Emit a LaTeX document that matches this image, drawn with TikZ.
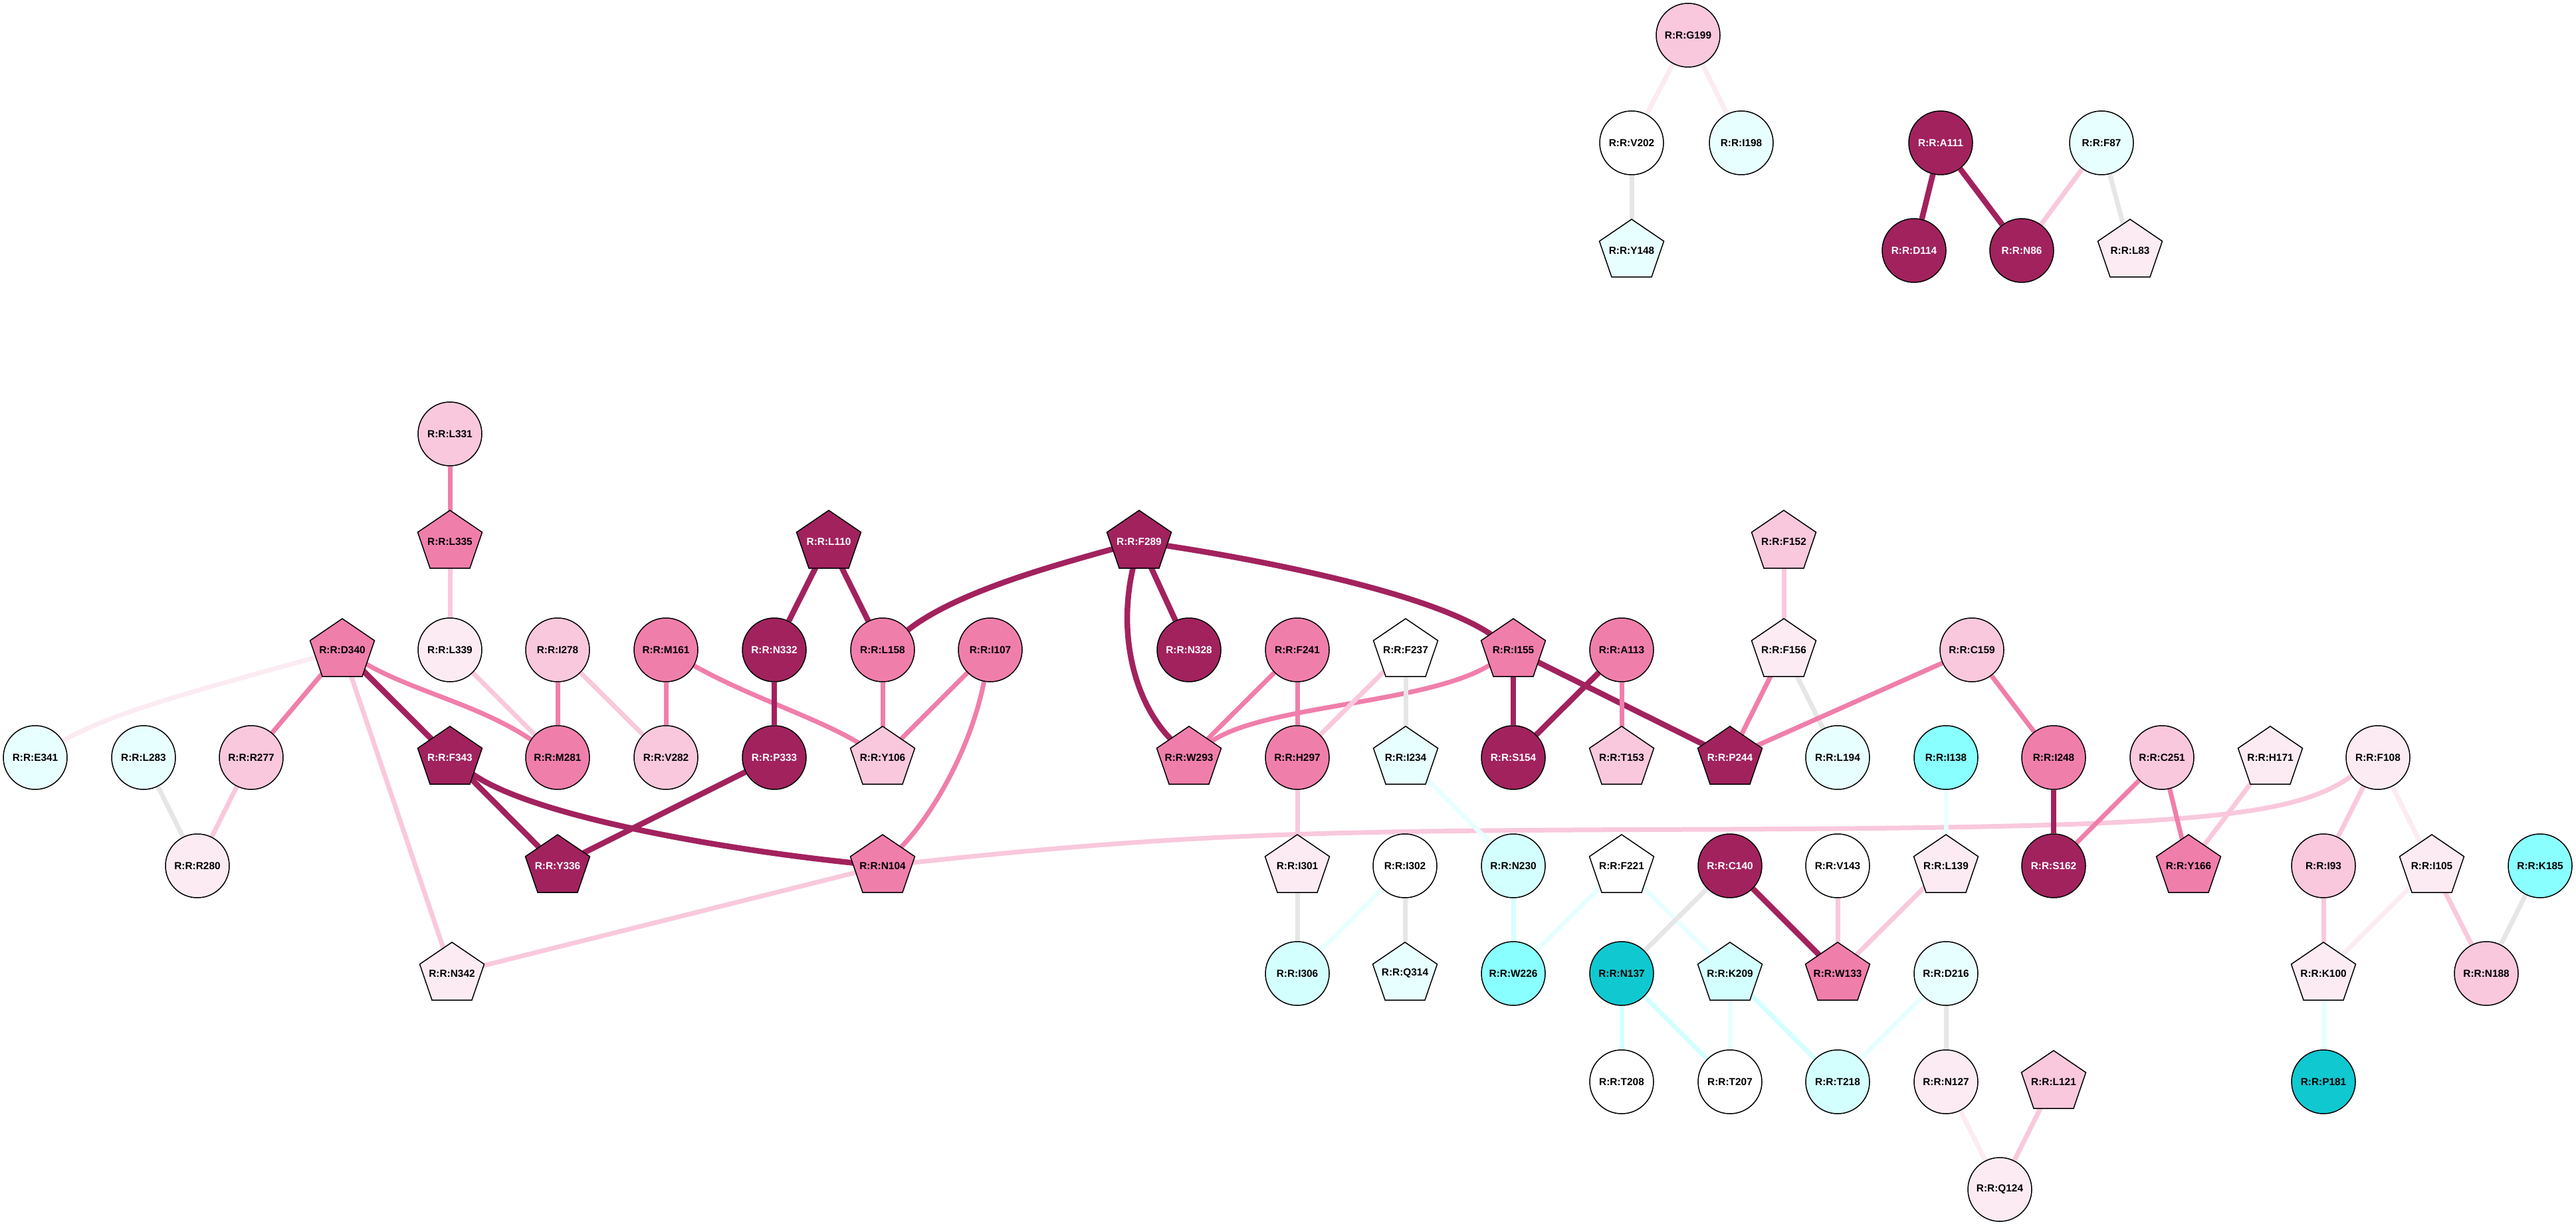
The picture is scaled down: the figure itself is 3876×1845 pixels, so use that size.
\documentclass[tikz,border=0pt]{standalone}
\usepackage{fontspec}
\setmainfont{Liberation Sans}
\usetikzlibrary{shapes.geometric}
\pgfdeclarelayer{edgelayer}
\pgfdeclarelayer{shapelayer}
\pgfsetlayers{edgelayer,shapelayer,main}
\definecolor{cdark}{RGB}{162,34,94}
\definecolor{cmed}{RGB}{240,126,171}
\definecolor{clp}{RGB}{249,200,220}
\definecolor{cvlp}{RGB}{252,235,243}
\definecolor{cvlc}{RGB}{232,255,255}
\definecolor{clc}{RGB}{212,255,255}
\definecolor{ccy}{RGB}{138,255,255}
\definecolor{cteal}{RGB}{16,200,208}
\definecolor{cgrey}{RGB}{230,230,230}
\tikzset{
  nd/.style={draw=black, line width=0.75pt, inner sep=0pt, font=\bfseries\fontsize{7.7}{8}\selectfont},
  cir/.style={nd, circle, minimum size=48pt},
  pent/.style={nd, circle, draw=none, minimum size=38pt},
  tw/.style={text=white},
  fdark/.style={fill=cdark, text=white},
  fmed/.style={fill=cmed},
  flp/.style={fill=clp},
  fvlp/.style={fill=cvlp},
  fw/.style={fill=white},
  fvlc/.style={fill=cvlc},
  flc/.style={fill=clc},
  fcy/.style={fill=ccy},
  fteal/.style={fill=cteal},
  pentshape/.style={draw=black, line width=0.75pt},
  edk/.style={line width=4.25pt, draw=cdark},
  emd/.style={line width=3.5pt, draw=cmed},
  elp/.style={line width=3.5pt, draw=clp},
  evl/.style={line width=3.5pt, draw=cvlp},
  egr/.style={line width=3.5pt, draw=cgrey},
  evc/.style={line width=3.5pt, draw=cvlc},
  elc/.style={line width=3.5pt, draw=clc},
}
\begin{document}
\begin{tikzpicture}[x=0.5pt, y=-0.5pt]
\useasboundingbox (0,0) rectangle (3876,1845);
% top group
\node[cir,flp]   (G199) at (2540,53)  {R:R:G199};
\node[cir,fw]    (V202) at (2455,215) {R:R:V202};
\node[cir,fvlc]  (I198) at (2620,215) {R:R:I198};
\node[pent]      (Y148) at (2455,377) {R:R:Y148};
\node[cir,fdark] (A111) at (2920,215) {R:R:A111};
\node[cir,fvlc]  (F87)  at (3162,215) {R:R:F87};
\node[cir,fdark] (D114) at (2880,377) {R:R:D114};
\node[cir,fdark] (N86)  at (3042,377) {R:R:N86};
\node[pent]      (L83)  at (3205,377) {R:R:L83};
% row 653
\node[cir,flp]   (L331) at (677,653) {R:R:L331};
% row 815
\node[pent]      (L335) at (677,815)  {R:R:L335};
\node[pent,tw]   (L110) at (1247,815) {R:R:L110};
\node[pent,tw]   (F289) at (1714,815) {R:R:F289};
\node[pent]      (F152) at (2684,815) {R:R:F152};
% row 978
\node[pent]      (D340) at (515,978)  {R:R:D340};
\node[cir,fvlp]  (L339) at (677,978)  {R:R:L339};
\node[cir,flp]   (I278) at (839,978)  {R:R:I278};
\node[cir,fmed]  (M161) at (1002,978) {R:R:M161};
\node[cir,fdark] (N332) at (1165,978) {R:R:N332};
\node[cir,fmed]  (L158) at (1328,978) {R:R:L158};
\node[cir,fmed]  (I107) at (1490,978) {R:R:I107};
\node[cir,fdark] (N328) at (1789,978) {R:R:N328};
\node[cir,fmed]  (F241) at (1952,978) {R:R:F241};
\node[pent]      (F237) at (2115,978) {R:R:F237};
\node[pent]      (I155) at (2277,978) {R:R:I155};
\node[cir,fmed]  (A113) at (2440,978) {R:R:A113};
\node[pent]      (F156) at (2684,978) {R:R:F156};
\node[cir,flp]   (C159) at (2967,978) {R:R:C159};
% row 1140
\node[cir,fvlc]   (E341) at (53,1140)   {R:R:E341};
\node[cir,fvlc]   (L283) at (216,1140)  {R:R:L283};
\node[cir,flp]    (R277) at (378,1140)  {R:R:R277};
\node[pent,tw]    (F343) at (677,1140)  {R:R:F343};
\node[cir,fmed]   (M281) at (839,1140)  {R:R:M281};
\node[cir,flp]    (V282) at (1002,1140) {R:R:V282};
\node[cir,fdark]  (P333) at (1165,1140) {R:R:P333};
\node[pent]       (Y106) at (1328,1140) {R:R:Y106};
\node[pent]       (W293) at (1789,1140) {R:R:W293};
\node[cir,fmed]   (H297) at (1952,1140) {R:R:H297};
\node[pent]       (I234) at (2115,1140) {R:R:I234};
\node[cir,fdark]  (S154) at (2277,1140) {R:R:S154};
\node[pent]       (T153) at (2440,1140) {R:R:T153};
\node[pent,tw]    (P244) at (2603,1140) {R:R:P244};
\node[cir,fvlc]   (L194) at (2765,1140) {R:R:L194};
\node[cir,fcy]    (I138) at (2928,1140) {R:R:I138};
\node[cir,fmed]   (I248) at (3090,1140) {R:R:I248};
\node[cir,flp]    (C251) at (3253,1140) {R:R:C251};
\node[pent]       (H171) at (3416,1140) {R:R:H171};
\node[cir,fvlp]   (F108) at (3578,1140) {R:R:F108};
% row 1303
\node[cir,fvlp]   (R280) at (297,1303)  {R:R:R280};
\node[pent,tw]    (Y336) at (839,1303)  {R:R:Y336};
\node[pent]       (N104) at (1328,1303) {R:R:N104};
\node[pent]       (I301) at (1952,1303) {R:R:I301};
\node[cir,fw]     (I302) at (2114,1303) {R:R:I302};
\node[cir,flc]    (N230) at (2277,1303) {R:R:N230};
\node[pent]       (F221) at (2440,1303) {R:R:F221};
\node[cir,fdark]  (C140) at (2603,1303) {R:R:C140};
\node[cir,fw]     (V143) at (2765,1303) {R:R:V143};
\node[pent]       (L139) at (2928,1303) {R:R:L139};
\node[cir,fdark]  (S162) at (3090,1303) {R:R:S162};
\node[pent]       (Y166) at (3293,1303) {R:R:Y166};
\node[cir,flp]    (I93)  at (3496,1303) {R:R:I93};
\node[pent]       (I105) at (3659,1303) {R:R:I105};
\node[cir,fcy]    (K185) at (3822,1303) {R:R:K185};
% row 1465
\node[pent]       (N342) at (680,1465)  {R:R:N342};
\node[cir,flc]    (I306) at (1952,1465) {R:R:I306};
\node[pent]       (Q314) at (2114,1465) {R:R:Q314};
\node[cir,fcy]    (W226) at (2277,1465) {R:R:W226};
\node[cir,fteal]  (N137) at (2440,1465) {R:R:N137};
\node[pent]       (K209) at (2603,1465) {R:R:K209};
\node[pent]       (W133) at (2765,1465) {R:R:W133};
\node[cir,fvlc]   (D216) at (2928,1465) {R:R:D216};
\node[pent]       (K100) at (3496,1465) {R:R:K100};
\node[cir,flp]    (N188) at (3741,1465) {R:R:N188};
% row 1628
\node[cir,fw]     (T208) at (2440,1628) {R:R:T208};
\node[cir,fw]     (T207) at (2603,1628) {R:R:T207};
\node[cir,flc]    (T218) at (2765,1628) {R:R:T218};
\node[cir,fvlp]   (N127) at (2928,1628) {R:R:N127};
\node[pent]       (L121) at (3090,1628) {R:R:L121};
\node[cir,fteal]  (P181) at (3496,1628) {R:R:P181};
% row 1790
\node[cir,fvlp]   (Q124) at (3009,1790) {R:R:Q124};

% pentagon outlines
\begin{pgfonlayer}{shapelayer}
\foreach \n/\c in {Y148/cvlc, L83/cvlp, L335/cmed, L110/cdark, F289/cdark, F152/clp,
  D340/cmed, F237/white, I155/cmed, F156/cvlp, F343/cdark, Y106/clp, W293/cmed,
  I234/cvlc, T153/clp, P244/cdark, H171/cvlp, Y336/cdark, N104/cmed, I301/cvlp,
  F221/white, L139/cvlp, Y166/cmed, I105/cvlp, N342/cvlp, Q314/cvlc, K209/clc,
  W133/cmed, K100/cvlp, L121/clp}
{
  \draw[pentshape, fill=\c]
    ([shift={(0pt,23.5pt)}]\n.center) -- ([shift={(24.25pt,7pt)}]\n.center)
    -- ([shift={(15pt,-20pt)}]\n.center) -- ([shift={(-15pt,-20pt)}]\n.center)
    -- ([shift={(-24.25pt,7pt)}]\n.center) -- cycle;
}
\end{pgfonlayer}

\begin{pgfonlayer}{edgelayer}
\fill[white] (0,0) rectangle (3876,1845);
% top
\draw[evl] (G199) -- (V202);
\draw[evl] (G199) -- (I198);
\draw[egr] (V202) -- (Y148);
\draw[edk] (A111) -- (D114);
\draw[edk] (A111) -- (N86);
\draw[elp] (F87) -- (N86);
\draw[egr] (F87) -- (L83);
% left part
\draw[emd] (L331) -- (L335);
\draw[elp] (L335) -- (L339);
\draw[evl] (D340) .. controls (330,1030) and (170,1070) .. (E341);
\draw[emd] (D340) -- (R277);
\draw[elp] (D340) -- (N342);
\draw[edk] (D340) -- (F343);
\draw[emd] (D340) .. controls (620,1040) and (720,1060) .. (M281);
\draw[elp] (L339) -- (M281);
\draw[emd] (I278) -- (M281);
\draw[elp] (I278) -- (V282);
\draw[emd] (M161) -- (V282);
\draw[emd] (M161) .. controls (1130,1050) and (1230,1080) .. (Y106);
\draw[egr] (L283) -- (R280);
\draw[elp] (R277) -- (R280);
\draw[edk] (F343) -- (Y336);
\draw[edk] (F343) .. controls (800,1230) and (1100,1280) .. (N104);
\draw[edk] (P333) -- (Y336);
\draw[edk] (N332) -- (P333);
\draw[edk] (L110) -- (N332);
\draw[edk] (L110) -- (L158);
\draw[emd] (L158) -- (Y106);
\draw[emd] (I107) -- (Y106);
\draw[emd] (I107) .. controls (1460,1130) and (1400,1230) .. (N104);
\draw[elp] (N104) -- (N342);
\draw[elp] (N104) .. controls (1800,1252) and (2000,1250) .. (2600,1248)
                  .. controls (3300,1245) and (3450,1230) .. (F108);
% middle part
\draw[edk] (F289) .. controls (1590,850) and (1440,890) .. (L158);
\draw[edk] (F289) -- (N328);
\draw[edk] (F289) .. controls (1680,960) and (1710,1060) .. (W293);
\draw[edk] (F289) .. controls (1880,840) and (2150,890) .. (I155);
\draw[emd] (F241) -- (W293);
\draw[emd] (F241) -- (H297);
\draw[emd] (W293) .. controls (1900,1060) and (2150,1060) .. (I155);
\draw[elp] (F237) -- (H297);
\draw[egr] (F237) -- (I234);
\draw[elp] (H297) -- (I301);
\draw[edk] (I155) -- (S154);
\draw[edk] (I155) -- (P244);
\draw[edk] (A113) -- (S154);
\draw[emd] (A113) -- (T153);
\draw[elp] (F152) -- (F156);
\draw[emd] (F156) -- (P244);
\draw[egr] (F156) -- (L194);
\draw[emd] (C159) -- (P244);
\draw[emd] (C159) -- (I248);
\draw[evc] (I234) -- (N230);
\draw[evc] (I138) -- (L139);
\draw[edk] (I248) -- (S162);
\draw[emd] (C251) -- (S162);
\draw[emd] (C251) -- (Y166);
\draw[elp] (H171) -- (Y166);
\draw[elp] (F108) -- (I93);
\draw[evl] (F108) -- (I105);
\draw[elp] (I93) -- (K100);
\draw[evl] (I105) -- (K100);
\draw[elp] (I105) -- (N188);
\draw[egr] (K185) -- (N188);
\draw[evc] (K100) -- (P181);
\draw[egr] (I301) -- (I306);
\draw[evc] (I302) -- (I306);
\draw[egr] (I302) -- (Q314);
\draw[elc] (N230) -- (W226);
\draw[evc] (F221) -- (W226);
\draw[evc] (F221) -- (K209);
\draw[egr] (C140) -- (N137);
\draw[edk] (C140) -- (W133);
\draw[elp] (V143) -- (W133);
\draw[elp] (L139) -- (W133);
\draw[elc] (N137) -- (T208);
\draw[elc] (N137) -- (T207);
\draw[evc] (K209) -- (T207);
\draw[elc] (K209) -- (T218);
\draw[evc] (D216) -- (T218);
\draw[egr] (D216) -- (N127);
\draw[evl] (N127) -- (Q124);
\draw[elp] (L121) -- (Q124);
\end{pgfonlayer}
\end{tikzpicture}
\end{document}
